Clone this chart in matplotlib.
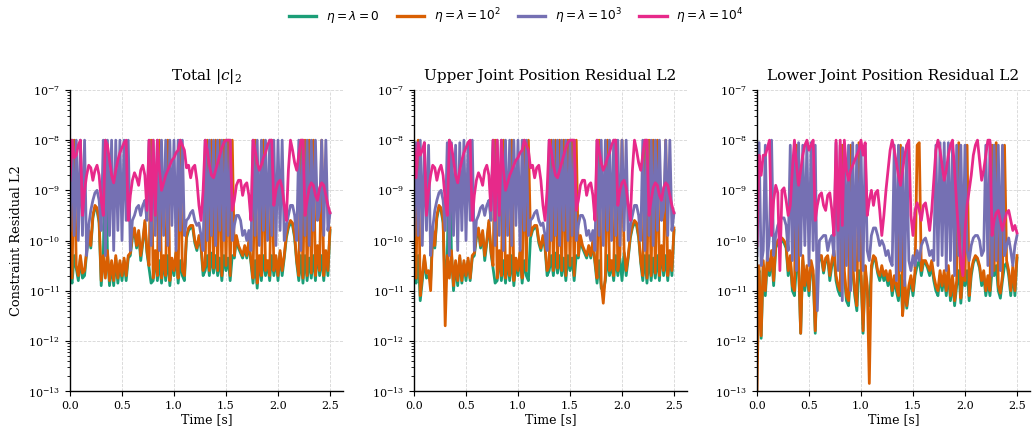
import numpy as np
import matplotlib
matplotlib.use("Agg")
import matplotlib.pyplot as plt
from matplotlib.font_manager import FontProperties
from matplotlib.lines import Line2D

plt.rcParams["font.family"] = ["DejaVu Serif"]
plt.rcParams["mathtext.fontset"] = "dejavuserif"

# sample grid of the simulation (s)
time_s = np.round(np.arange(126) * 0.02, 2)

series_labels = [r"$\eta=\lambda=0$", r"$\eta=\lambda=10^2$",
                 r"$\eta=\lambda=10^3$", r"$\eta=\lambda=10^4$"]
series_colors = ["#1b9e77", "#d95f02", "#7570b3", "#e7298a"]
panel_titles = [r"Total $|c|_2$", "Upper Joint Position Residual L2",
                "Lower Joint Position Residual L2"]

# ---- log10 of residuals ----
total_eta0 = [
    -10.7, -10.85, -10.3, -10.55, -10.8, -10.35, -10.75, -10.7, -10.25, -9.85,
    -10.15, -9.55, -9.35, -9.4, -9.65, -10.9, -10.35, -8.0, -10.25, -10.9,
    -10.45, -10.9, -10.35, -10.85, -10.45, -10.8, -10.4, -10.8, -10.35, -10.3,
    -9.95, -9.8, -10.15, -9.85, -10.4, -10.05, -9.65, -10.25, -10.55, -10.85,
    -10.8, -10.25, -10.8, -10.4, -10.85, -10.35, -10.8, -10.3, -10.9, -10.4,
    -10.7, -10.25, -10.85, -10.4, -10.7, -10.8, -9.95, -9.8, -9.75, -9.75,
    -10.05, -10.2, -9.95, -10.15, -10.7, -10.6, -10.3, -10.7, -10.25, -10.65,
    -10.3, -10.7, -10.35, -10.8, -10.3, -10.6, -10.35, -10.8, -10.3, -10.35,
    -9.95, -10.15, -10.25, -10.35, -10.15, -10.35, -10.05, -10.45, -10.85, -10.4,
    -10.95, -10.35, -10.8, -10.3, -10.7, -10.45, -10.8, -10.3, -10.7, -10.35,
    -10.8, -10.25, -10.7, -10.35, -9.95, -9.75, -9.65, -9.7, -9.95, -10.45,
    -10.8, -10.3, -10.85, -10.3, -10.8, -10.35, -10.75, -10.3, -10.8, -10.15,
    -10.7, -10.3, -10.8, -10.25, -10.7, -9.8]
total_eta1e2 = [
    -8.0, -10.75, -8.0, -10.5, -10.7, -10.3, -10.65, -10.6, -10.2, -9.8,
    -10.1, -9.5, -9.3, -9.35, -9.6, -10.8, -10.3, -10.75, -10.2, -10.8,
    -10.4, -10.8, -10.3, -10.75, -10.4, -10.7, -10.35, -10.7, -10.3, -10.25,
    -9.9, -9.75, -10.1, -9.8, -10.3, -10.0, -9.6, -10.2, -10.5, -8.0,
    -10.75, -10.2, -10.7, -8.0, -10.75, -10.3, -10.7, -8.0, -10.8, -10.35,
    -10.6, -10.2, -10.75, -8.0, -10.6, -10.7, -9.9, -9.75, -9.7, -9.7,
    -10.0, -10.15, -9.9, -10.1, -10.6, -10.5, -8.0, -10.6, -8.0, -10.55,
    -8.0, -10.6, -8.0, -10.7, -8.0, -10.5, -8.0, -10.7, -8.0, -10.3,
    -9.9, -10.1, -10.2, -10.3, -10.1, -10.3, -10.0, -10.4, -10.75, -8.0,
    -10.85, -10.3, -10.7, -8.0, -10.6, -10.4, -10.7, -8.0, -10.6, -10.3,
    -10.7, -10.2, -10.6, -10.3, -9.9, -9.7, -9.6, -9.65, -9.9, -10.4,
    -10.7, -8.0, -10.75, -8.0, -10.7, -8.0, -10.65, -8.0, -10.7, -10.1,
    -10.6, -8.0, -10.7, -10.2, -10.6, -9.75]
total_eta1e3 = [
    -9.8, -8.0, -9.9, -8.0, -10.0, -8.0, -9.9, -8.0, -10.3, -9.7,
    -9.4, -9.2, -9.05, -9.0, -9.2, -9.8, -8.0, -10.3, -8.0, -9.9,
    -8.0, -10.2, -8.0, -9.8, -8.0, -10.0, -8.0, -9.6, -8.0, -10.2,
    -9.6, -9.5, -9.35, -9.3, -9.5, -9.3, -9.2, -9.6, -8.0, -10.1,
    -8.0, -9.9, -8.0, -10.2, -8.0, -9.9, -8.0, -10.1, -8.0, -9.7,
    -8.0, -10.2, -8.0, -9.8, -8.0, -9.9, -9.6, -9.55, -9.45, -9.4,
    -9.6, -9.7, -9.65, -9.9, -10.2, -8.0, -10.0, -8.0, -9.9, -8.0,
    -10.1, -8.0, -9.8, -8.0, -10.0, -8.0, -9.9, -8.0, -10.0, -9.7,
    -9.5, -9.5, -9.6, -9.9, -9.8, -10.0, -9.8, -10.2, -8.0, -9.9,
    -8.0, -10.1, -8.0, -9.8, -8.0, -10.0, -8.0, -9.9, -8.0, -10.1,
    -8.0, -9.8, -8.0, -10.0, -9.7, -9.5, -9.3, -9.3, -9.5, -10.0,
    -8.0, -10.2, -8.0, -9.9, -8.0, -10.1, -8.0, -9.8, -8.0, -9.6,
    -9.4, -8.0, -9.9, -8.0, -9.8, -9.45]
total_eta1e4 = [
    -8.8, -8.0, -8.35, -8.3, -8.1, -8.0, -9.5, -9.0, -8.7, -8.5,
    -8.55, -8.8, -8.6, -8.5, -8.7, -9.2, -9.5, -8.0, -8.1, -8.4,
    -8.7, -8.85, -8.6, -8.4, -8.25, -8.15, -8.05, -8.0, -9.6, -9.1,
    -8.8, -8.65, -8.75, -8.9, -8.6, -8.5, -8.7, -9.4, -8.0, -9.6,
    -8.0, -9.5, -8.0, -8.6, -9.0, -8.85, -8.7, -8.6, -8.5, -8.4,
    -8.35, -8.25, -8.2, -8.0, -8.1, -8.2, -8.55, -8.5, -8.75, -8.55,
    -8.5, -8.8, -9.3, -9.6, -9.0, -8.0, -8.2, -8.5, -8.7, -8.75,
    -8.6, -8.45, -8.3, -8.15, -8.05, -8.0, -8.0, -8.0, -9.4, -9.2,
    -8.9, -8.8, -8.8, -9.1, -8.9, -8.85, -9.1, -9.6, -8.0, -8.2,
    -8.45, -8.6, -8.5, -8.35, -8.25, -8.1, -8.0, -8.0, -9.3, -9.0,
    -8.85, -8.8, -8.95, -9.3, -9.6, -8.6, -8.0, -8.2, -8.45, -8.6,
    -8.3, -8.0, -8.0, -9.5, -9.2, -8.95, -8.85, -8.9, -9.1, -9.2,
    -8.95, -8.85, -8.9, -9.1, -9.3, -9.45]

upper_eta0 = [
    -10.7, -10.85, -10.3, -11.2, -10.8, -10.35, -10.75, -10.7, -10.8, -9.85,
    -10.15, -9.55, -9.35, -9.4, -9.65, -10.95, -10.35, -8.0, -10.25, -11.0,
    -10.45, -10.9, -10.35, -10.85, -10.45, -10.8, -10.4, -10.8, -10.35, -10.3,
    -9.95, -9.8, -10.15, -9.85, -10.4, -10.05, -9.65, -10.25, -10.55, -10.85,
    -10.8, -10.25, -10.8, -10.4, -10.85, -10.35, -10.8, -10.3, -10.9, -10.4,
    -10.7, -10.25, -10.85, -10.4, -10.7, -10.8, -9.95, -9.8, -9.75, -9.75,
    -10.05, -10.2, -9.95, -10.15, -10.7, -10.6, -10.3, -10.7, -10.25, -10.65,
    -10.3, -10.7, -10.35, -10.8, -10.3, -10.6, -10.35, -10.8, -10.3, -10.35,
    -9.95, -10.15, -10.25, -10.35, -10.15, -10.35, -10.05, -10.45, -10.85, -10.4,
    -10.95, -11.0, -10.8, -10.3, -10.7, -10.45, -10.8, -10.3, -10.7, -10.35,
    -10.8, -10.25, -10.7, -10.35, -9.95, -9.75, -9.65, -9.7, -9.95, -10.45,
    -10.8, -10.3, -10.85, -10.3, -10.8, -10.35, -10.75, -10.3, -10.8, -10.15,
    -10.7, -10.3, -10.8, -10.25, -10.7, -9.8]
upper_eta1e2 = [
    -8.05, -10.75, -8.0, -11.1, -10.7, -10.3, -10.65, -10.6, -11.0, -9.8,
    -10.1, -9.5, -9.3, -9.35, -9.6, -11.7, -10.3, -10.75, -10.2, -10.9,
    -10.4, -10.8, -10.3, -10.8, -10.4, -10.7, -10.35, -10.75, -10.3, -10.25,
    -9.9, -9.75, -10.1, -9.8, -10.3, -10.0, -9.6, -10.2, -10.5, -8.0,
    -10.75, -10.2, -10.7, -8.0, -10.75, -10.3, -10.7, -8.0, -10.8, -10.35,
    -10.6, -10.2, -10.75, -8.0, -10.6, -8.0, -9.9, -9.75, -9.7, -9.7,
    -10.0, -10.15, -9.9, -10.1, -10.6, -10.5, -8.0, -10.6, -8.0, -10.55,
    -8.0, -10.6, -8.0, -10.7, -8.0, -10.5, -8.0, -10.7, -8.0, -10.3,
    -9.9, -10.1, -10.2, -10.3, -10.1, -10.3, -10.0, -10.4, -10.75, -8.0,
    -10.85, -11.25, -10.7, -8.0, -10.6, -10.4, -10.7, -8.0, -10.6, -10.3,
    -8.0, -10.2, -10.6, -10.3, -9.9, -9.7, -9.6, -9.65, -9.9, -10.4,
    -10.7, -8.0, -10.75, -8.0, -10.7, -8.0, -10.65, -8.0, -10.7, -10.1,
    -10.6, -8.0, -10.7, -10.2, -10.6, -9.75]
upper_eta1e3 = [
    -9.9, -8.05, -9.9, -8.0, -10.1, -8.05, -9.8, -8.1, -10.3, -9.75,
    -9.4, -9.2, -9.05, -9.0, -9.2, -9.8, -8.05, -10.3, -8.05, -9.9,
    -8.1, -10.2, -8.05, -9.8, -8.0, -10.0, -8.05, -9.6, -8.0, -10.2,
    -9.6, -9.5, -9.35, -9.3, -9.5, -9.3, -9.2, -9.6, -8.0, -10.1,
    -8.0, -9.9, -8.0, -10.2, -8.0, -9.9, -8.0, -10.1, -8.0, -9.7,
    -8.0, -10.2, -8.0, -9.8, -8.0, -9.9, -9.6, -9.55, -9.45, -9.4,
    -9.6, -9.7, -9.65, -9.9, -10.2, -8.0, -10.0, -8.0, -9.9, -8.0,
    -10.1, -8.0, -9.8, -8.0, -10.0, -8.0, -9.9, -8.0, -10.0, -9.7,
    -9.5, -9.5, -9.6, -9.9, -9.8, -10.0, -9.8, -10.2, -8.0, -9.9,
    -8.0, -10.1, -8.0, -9.8, -8.0, -10.0, -8.0, -9.9, -8.0, -10.1,
    -8.0, -9.8, -8.0, -10.0, -9.7, -9.5, -9.3, -9.3, -9.5, -10.0,
    -8.0, -10.2, -8.0, -9.9, -8.0, -10.1, -8.0, -9.8, -8.0, -9.6,
    -9.4, -8.0, -9.9, -8.0, -9.8, -9.45]
upper_eta1e4 = [
    -8.1, -8.75, -8.05, -8.3, -8.2, -8.05, -9.5, -9.0, -8.7, -8.5,
    -8.55, -8.8, -8.6, -8.5, -8.7, -9.2, -9.5, -8.0, -8.1, -8.4,
    -8.7, -8.85, -8.6, -8.4, -8.25, -8.15, -8.05, -8.0, -9.6, -9.1,
    -8.8, -8.65, -8.75, -8.9, -8.6, -8.5, -8.7, -9.4, -8.0, -9.6,
    -8.0, -9.5, -8.0, -8.6, -9.0, -8.85, -8.7, -8.6, -8.5, -8.4,
    -8.35, -8.25, -8.2, -8.0, -8.1, -8.2, -8.55, -8.5, -8.75, -8.55,
    -8.5, -8.8, -9.3, -9.6, -9.0, -8.0, -8.2, -8.5, -8.7, -8.75,
    -8.6, -8.45, -8.3, -8.15, -8.05, -8.0, -8.0, -8.0, -9.4, -9.2,
    -8.9, -8.8, -8.8, -9.1, -8.9, -8.85, -9.1, -9.6, -8.0, -8.2,
    -8.45, -8.6, -8.5, -8.35, -8.25, -8.1, -8.0, -8.0, -9.3, -9.0,
    -8.85, -8.8, -8.95, -9.3, -9.6, -8.6, -8.0, -8.2, -8.45, -8.6,
    -8.3, -8.0, -8.0, -9.5, -9.2, -8.95, -8.85, -8.9, -9.1, -9.2,
    -8.95, -8.85, -8.9, -9.1, -9.3, -9.45]

lower_eta0 = [
    -10.9, -10.6, -11.95, -10.5, -11.1, -10.4, -10.7, -10.3, -10.9, -10.15,
    -10.05, -10.0, -10.0, -10.05, -10.15, -10.7, -10.4, -11.0, -11.1, -10.5,
    -10.5, -11.85, -10.4, -11.0, -10.6, -11.1, -10.5, -10.7, -11.85, -10.6,
    -10.35, -10.35, -10.65, -10.4, -10.35, -10.8, -10.5, -10.3, -10.8, -11.0,
    -11.1, -10.6, -10.7, -11.2, -11.3, -10.7, -10.6, -11.1, -11.4, -10.6,
    -10.7, -11.85, -10.6, -11.0, -11.3, -10.6, -10.35, -10.4, -10.65, -10.8,
    -10.6, -10.8, -10.7, -10.9, -10.7, -11.1, -10.8, -11.0, -11.2, -10.7,
    -11.45, -10.9, -11.35, -11.0, -10.8, -11.1, -10.7, -10.5, -10.4, -10.7,
    -10.45, -10.45, -10.55, -10.7, -10.5, -10.8, -11.0, -11.1, -10.7, -11.0,
    -10.7, -11.1, -10.6, -11.2, -10.8, -11.3, -10.9, -10.6, -11.25, -10.7,
    -10.9, -10.6, -11.2, -10.7, -10.45, -10.35, -10.4, -10.55, -10.9, -10.7,
    -11.1, -10.8, -11.1, -10.6, -10.7, -10.5, -11.0, -11.15, -10.8, -10.5,
    -10.45, -10.7, -11.1, -10.6, -11.1, -10.35]
lower_eta1e2 = [
    -13.0, -10.5, -11.9, -10.4, -11.0, -10.3, -10.6, -10.2, -10.8, -10.1,
    -10.0, -9.95, -9.95, -10.0, -10.1, -10.6, -10.3, -10.9, -11.0, -8.1,
    -10.4, -11.85, -10.3, -10.9, -10.5, -11.0, -10.4, -10.6, -11.8, -10.5,
    -10.3, -10.3, -10.6, -10.35, -10.3, -10.7, -10.4, -10.2, -10.7, -10.9,
    -11.0, -8.1, -10.6, -11.1, -11.2, -8.1, -10.5, -11.0, -11.3, -8.05,
    -10.6, -11.8, -10.5, -10.9, -12.85, -10.5, -10.3, -10.35, -10.6, -10.7,
    -10.5, -10.7, -10.6, -10.8, -10.6, -11.0, -10.7, -10.9, -11.1, -8.1,
    -11.5, -10.8, -11.3, -10.9, -10.7, -11.0, -10.6, -8.1, -8.05, -10.6,
    -10.4, -10.4, -10.5, -10.6, -10.4, -10.7, -10.9, -11.0, -10.6, -10.9,
    -10.6, -11.0, -10.5, -11.1, -10.7, -11.2, -10.8, -8.05, -11.15, -10.6,
    -10.8, -8.1, -11.1, -10.6, -10.4, -10.3, -10.35, -10.5, -10.8, -10.6,
    -11.0, -10.7, -11.0, -8.1, -10.6, -8.05, -10.9, -11.05, -10.7, -8.1,
    -10.4, -10.6, -11.0, -10.5, -11.0, -10.3]
lower_eta1e3 = [
    -10.3, -8.05, -10.5, -10.2, -8.1, -10.4, -9.9, -8.0, -10.3, -9.9,
    -9.7, -9.6, -9.55, -9.55, -9.7, -10.2, -8.1, -10.4, -8.1, -10.6,
    -8.05, -10.3, -8.1, -10.1, -8.05, -10.5, -8.05, -10.2, -8.1, -11.4,
    -10.0, -9.95, -9.9, -9.9, -10.2, -10.0, -9.9, -10.3, -8.05, -10.6,
    -8.1, -11.2, -8.1, -10.5, -8.1, -11.0, -8.05, -10.6, -8.1, -10.4,
    -8.1, -10.6, -8.1, -10.2, -10.4, -9.9, -9.75, -9.75, -9.9, -10.1,
    -10.0, -10.1, -10.3, -10.2, -10.4, -10.5, -8.1, -10.8, -8.1, -10.6,
    -8.15, -10.9, -8.1, -10.4, -10.6, -10.3, -10.5, -10.2, -10.4, -10.1,
    -10.0, -9.95, -10.1, -10.3, -10.2, -10.4, -8.1, -10.5, -8.05, -10.3,
    -8.05, -10.6, -8.05, -10.4, -8.1, -10.7, -8.1, -10.3, -8.1, -10.5,
    -8.1, -10.2, -10.4, -10.1, -9.95, -9.9, -9.9, -10.0, -10.3, -10.2,
    -8.1, -10.5, -8.05, -10.7, -8.1, -10.4, -8.1, -10.6, -8.1, -10.3,
    -10.1, -9.95, -10.2, -10.5, -10.1, -9.9]
lower_eta1e4 = [
    -10.1, -8.3, -8.7, -8.3, -8.3, -8.15, -8.0, -9.9, -9.2, -8.9,
    -9.05, -10.6, -9.0, -8.95, -9.2, -9.5, -9.3, -8.6, -8.0, -8.5,
    -8.9, -8.6, -8.3, -8.1, -8.0, -8.2, -8.1, -8.0, -9.6, -9.3,
    -9.1, -9.05, -9.3, -9.4, -9.1, -9.05, -9.4, -9.9, -8.0, -9.8,
    -8.0, -9.7, -8.0, -8.6, -8.8, -8.6, -8.5, -8.4, -8.3, -8.2,
    -8.0, -8.3, -8.05, -9.5, -9.2, -9.0, -9.3, -9.05, -9.0, -9.4,
    -9.9, -9.5, -9.0, -8.6, -8.2, -8.0, -8.2, -8.45, -8.7, -8.9,
    -8.6, -8.3, -8.1, -8.0, -9.5, -9.9, -9.4, -9.25, -9.4, -9.6,
    -9.3, -9.25, -9.5, -9.8, -9.4, -8.8, -8.2, -8.0, -8.2, -8.5,
    -8.8, -8.6, -8.3, -8.1, -8.0, -8.6, -9.3, -9.9, -10.4, -10.7,
    -9.8, -9.3, -9.0, -8.7, -8.3, -8.1, -8.0, -8.4, -8.8, -8.6,
    -8.3, -8.0, -8.0, -9.9, -9.6, -9.45, -9.4, -9.6, -9.8, -9.6,
    -9.45, -9.4, -9.6, -9.8, -9.7, -9.85]

panels = [
    [total_eta0, total_eta1e2, total_eta1e3, total_eta1e4],
    [upper_eta0, upper_eta1e2, upper_eta1e3, upper_eta1e4],
    [lower_eta0, lower_eta1e2, lower_eta1e3, lower_eta1e4],
]
for p in panels:
    for s in p:
        assert len(s) == len(time_s), len(s)

W, H = 1032, 436
fig = plt.figure(figsize=(W / 100, H / 100), dpi=100)
lefts = [70, 414, 757]
ax_w = 273
bottom, top = 391, 90
axes = []
for k, left in enumerate(lefts):
    ax = fig.add_axes([left / W, 1 - bottom / H, ax_w / W, (bottom - top) / H])
    axes.append(ax)
    for series, color in zip(panels[k], series_colors):
        ax.plot(time_s, 10.0 ** np.array(series), color=color, lw=2.0,
                solid_joinstyle="round")
    ax.set_yscale("log")
    ax.set_ylim(1e-13, 1e-7)
    ax.set_xlim(0, 2.625)
    ax.set_xticks([0.0, 0.5, 1.0, 1.5, 2.0, 2.5])
    ax.set_yticks([1e-13, 1e-12, 1e-11, 1e-10, 1e-9, 1e-8, 1e-7])
    ax.grid(True, which="major", linestyle="--", color="#cccccc",
            linewidth=0.6, alpha=0.8)
    ax.set_axisbelow(True)
    for side in ("top", "right"):
        ax.spines[side].set_visible(False)
    for side in ("left", "bottom"):
        ax.spines[side].set_linewidth(1.0)
    ax.tick_params(labelsize=8, length=3.5, width=0.8)
    ax.tick_params(which="minor", length=2, width=0.6)
    ax.set_title(panel_titles[k], fontsize=11, pad=7)
    ax.set_xlabel("Time [s]", fontsize=9, labelpad=2)

axes[0].set_ylabel("Constraint Residual L2", fontsize=9.3, labelpad=4)

handles = [Line2D([], [], color=c, lw=2.4) for c in series_colors]
fig.legend(handles, series_labels, loc="center", bbox_to_anchor=(0.5, 1 - 16 / H),
           ncol=4, frameon=False, handlelength=2.3, columnspacing=1.4,
           prop=FontProperties(family="DejaVu Sans", math_fontfamily="dejavusans",
                               size=8.7))

fig.savefig("out.png", dpi=100)
